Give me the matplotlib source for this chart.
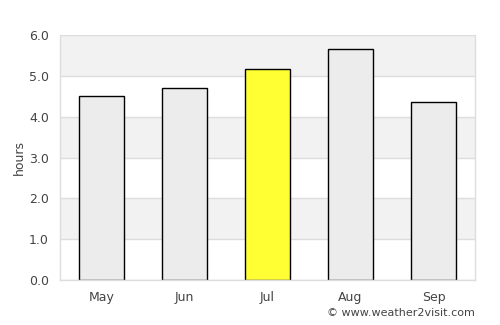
import matplotlib
matplotlib.use("Agg")
import matplotlib.pyplot as plt

months = ["May", "Jun", "Jul", "Aug", "Sep"]
hours = [4.52, 4.71, 5.16, 5.65, 4.36]
highlight = "Jul"
yticks = [0.0, 1.0, 2.0, 3.0, 4.0, 5.0, 6.0]

fig = plt.figure(figsize=(5, 3.25), dpi=100)
ax = fig.add_axes([0.12, 0.1385, 0.83, 0.7535])

for i in range(6):
    if i % 2 == 1:
        ax.axhspan(i, i + 1, color="#f2f2f2", zorder=0, lw=0)
for y in yticks:
    ax.axhline(y, color="#dddddd", lw=1, zorder=0.5)

colors = ["#ffff33" if m == highlight else "#ececec" for m in months]
x = range(len(months))
ax.bar(x, hours, width=0.55, color=colors, edgecolor="black", linewidth=1, zorder=2)

ax.set_xlim(-0.5, len(months) - 0.5)
ax.set_ylim(0, 6)
ax.set_xticks(list(x))
ax.set_xticklabels(months)
ax.set_yticks(yticks)
ax.set_yticklabels([f"{v:.1f}" for v in yticks])
ax.tick_params(length=0, colors="#444444", labelsize=9, pad=8)
ax.set_ylabel("hours", color="#444444", fontsize=9, labelpad=2)
for s in ["top"]:
    ax.spines[s].set_visible(False)
for s in ["left", "right", "bottom"]:
    ax.spines[s].set_color("#dddddd")
    ax.spines[s].set_linewidth(1)

fig.text(0.95, 0.02, "© www.weather2visit.com", ha="right", va="bottom",
         fontsize=8, color="#444444")

fig.savefig("out.png", dpi=100)
